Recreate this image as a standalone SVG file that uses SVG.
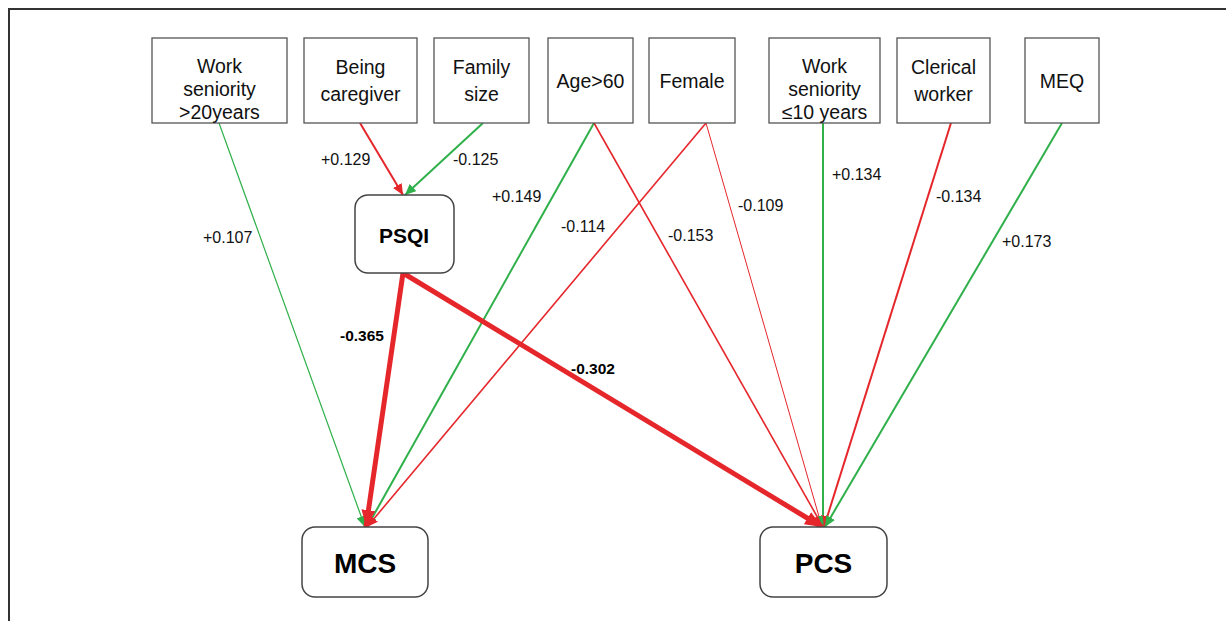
<svg xmlns="http://www.w3.org/2000/svg" width="1226" height="621" viewBox="0 0 1226 621">
<style>
.box{fill:#fff;stroke:#555;stroke-width:1.3}
.rbox{fill:#fff;stroke:#444;stroke-width:1.5}
.t{font-family:"Liberation Sans",Arial,sans-serif;font-size:19.5px;fill:#111;text-anchor:middle}
.b{font-family:"Liberation Sans",Arial,sans-serif;font-weight:bold;fill:#000;text-anchor:middle}
.lab{font-family:"Liberation Sans",Arial,sans-serif;font-size:16px;fill:#111}
.labb{font-family:"Liberation Sans",Arial,sans-serif;font-size:15.5px;font-weight:bold;fill:#000}
.r{stroke:#e5262b;fill:none}
.g{stroke:#2fb04a;fill:none}
</style>
<defs>
<marker id="hr" markerUnits="userSpaceOnUse" markerWidth="12" markerHeight="10" refX="11" refY="5" orient="auto"><path d="M0,0 L11,5 L0,10 Z" fill="#e5262b"/></marker>
<marker id="hg" markerUnits="userSpaceOnUse" markerWidth="12" markerHeight="10" refX="11" refY="5" orient="auto"><path d="M0,0 L11,5 L0,10 Z" fill="#2fb04a"/></marker>
<marker id="hrt" markerUnits="userSpaceOnUse" markerWidth="18" markerHeight="14" refX="17" refY="7" orient="auto"><path d="M0,0 L17,7 L0,14 Z" fill="#e5262b"/></marker>
</defs>
<rect width="1226" height="621" fill="#fff"/>
<path d="M9,640 V9 H1240" fill="none" stroke="#333" stroke-width="2"/>

<g id="connectors">
<line class="g" x1="219" y1="123" x2="365" y2="527" stroke-width="1.2" marker-end="url(#hg)"/>
<line class="r" x1="360" y1="123" x2="403" y2="195" stroke-width="2" marker-end="url(#hr)"/>
<line class="g" x1="483" y1="123" x2="405" y2="195" stroke-width="2" marker-end="url(#hg)"/>
<line class="g" x1="594" y1="123" x2="367" y2="527" stroke-width="2" marker-end="url(#hg)"/>
<line class="r" x1="594" y1="123" x2="823" y2="527" stroke-width="1.6" marker-end="url(#hr)"/>
<line class="r" x1="706" y1="123" x2="367" y2="527" stroke-width="1.6" marker-end="url(#hr)"/>
<line class="r" x1="706" y1="123" x2="822" y2="527" stroke-width="1" marker-end="url(#hr)"/>
<line class="g" x1="823" y1="123" x2="823" y2="527" stroke-width="2" marker-end="url(#hg)"/>
<line class="r" x1="951" y1="123" x2="824" y2="527" stroke-width="2" marker-end="url(#hr)"/>
<line class="g" x1="1062" y1="123" x2="825" y2="527" stroke-width="2" marker-end="url(#hg)"/>
<line class="r" x1="403" y1="273" x2="366" y2="527" stroke-width="5" marker-end="url(#hrt)"/>
<line class="r" x1="403" y1="273" x2="822" y2="527" stroke-width="5" marker-end="url(#hrt)"/>
<text class="lab" x="203" y="243">+0.107</text>
<text class="lab" x="321" y="165">+0.129</text>
<text class="lab" x="453" y="165">-0.125</text>
<text class="lab" x="492" y="202">+0.149</text>
<text class="lab" x="561" y="232">-0.114</text>
<text class="lab" x="668" y="241">-0.153</text>
<text class="lab" x="738" y="211">-0.109</text>
<text class="lab" x="832" y="180">+0.134</text>
<text class="lab" x="936" y="202">-0.134</text>
<text class="lab" x="1002" y="247">+0.173</text>
<text class="labb" x="340" y="341">-0.365</text>
<text class="labb" x="571" y="374">-0.302</text>
</g>

<g id="n-work20"><rect class="box" x="152" y="38" width="135" height="85"/><text class="t" x="219.5" y="73">Work</text><text class="t" x="219.5" y="96">seniority</text><text class="t" x="219.5" y="119">&gt;20years</text></g>
<g id="n-caregiver"><rect class="box" x="304" y="38" width="113" height="85"/><text class="t" x="360.5" y="74">Being</text><text class="t" x="360.5" y="101">caregiver</text></g>
<g id="n-family"><rect class="box" x="434" y="38" width="95" height="85"/><text class="t" x="481.5" y="74">Family</text><text class="t" x="481.5" y="101">size</text></g>
<g id="n-age"><rect class="box" x="548" y="38" width="85" height="85"/><text class="t" x="590.5" y="88">Age&gt;60</text></g>
<g id="n-female"><rect class="box" x="649" y="38" width="86" height="85"/><text class="t" x="692" y="88">Female</text></g>
<g id="n-work10"><rect class="box" x="769" y="38" width="111" height="85"/><text class="t" x="824.5" y="73">Work</text><text class="t" x="824.5" y="96">seniority</text><text class="t" x="824.5" y="119">≤10 years</text></g>
<g id="n-clerical"><rect class="box" x="897" y="38" width="93" height="85"/><text class="t" x="943.5" y="74">Clerical</text><text class="t" x="943.5" y="101">worker</text></g>
<g id="n-meq"><rect class="box" x="1025" y="38" width="74" height="85"/><text class="t" x="1062" y="88">MEQ</text></g>
<g id="n-psqi"><rect class="rbox" x="355" y="195" width="99" height="78" rx="13"/><text class="b" x="404" y="243" font-size="21">PSQI</text></g>
<g id="n-mcs"><rect class="rbox" x="302" y="527" width="126" height="70" rx="13"/><text class="b" x="365" y="573" font-size="28">MCS</text></g>
<g id="n-pcs"><rect class="rbox" x="760" y="527" width="127" height="70" rx="13"/><text class="b" x="823.5" y="573" font-size="28">PCS</text></g>
</svg>
